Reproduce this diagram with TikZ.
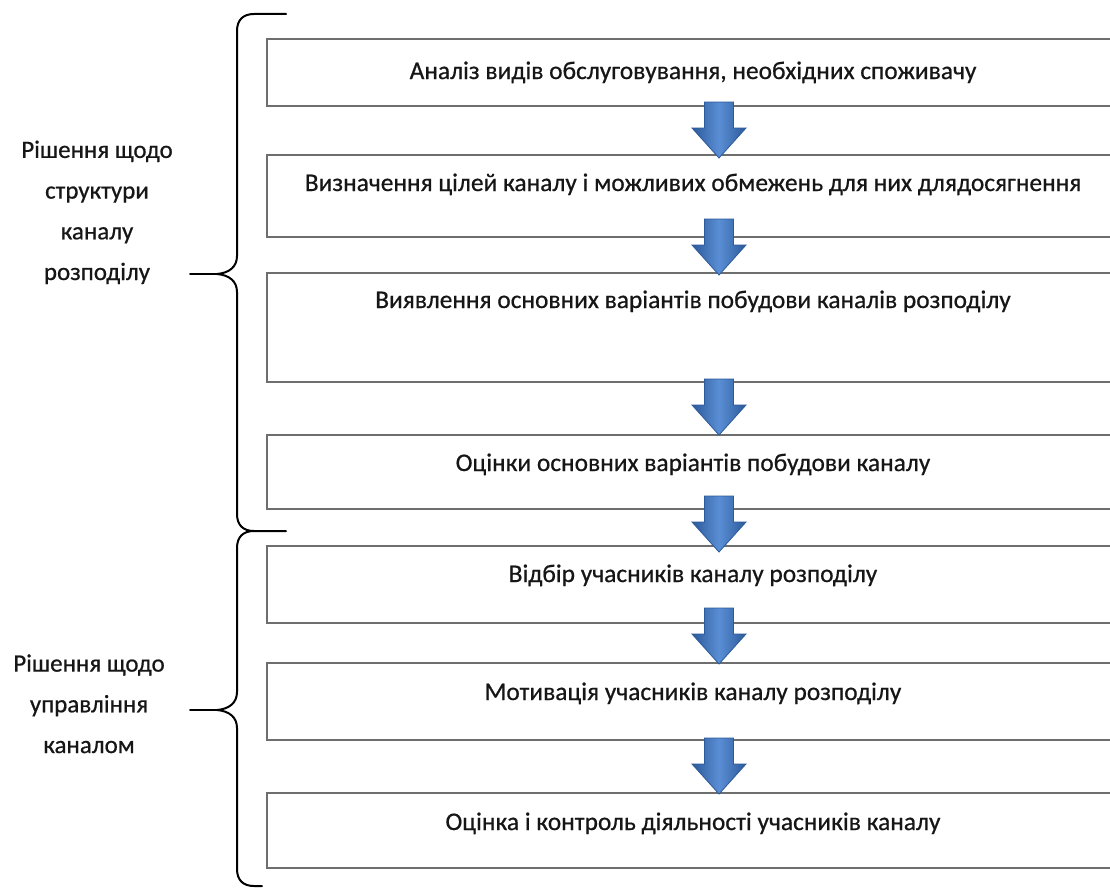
\documentclass[tikz,border=0pt]{standalone}
\usepackage{fontspec}
\setmainfont{Carlito}[FakeBold=0.6]
\usetikzlibrary{calc}
\definecolor{boxline}{HTML}{6E6E6E}
\definecolor{txt}{HTML}{161616}
\definecolor{arrdark}{HTML}{2C5A9A}
\definecolor{arrlight}{HTML}{5A8ED4}
\tikzset{
  stagebox/.style={draw=boxline, line width=2pt, inner sep=0pt, outer sep=0pt, anchor=north west, minimum width=852pt},
  stagetext/.style={text=txt, font=\fontsize{25.4}{30}\selectfont, anchor=base, inner sep=0pt},
  grouplabel/.style={text=txt, font=\fontsize{25}{40.7}\selectfont, align=center, inner sep=0pt, anchor=base},
  bracepath/.style={draw=black, line width=2pt, line join=round, line cap=round},
  flowarrow/.style={left color=arrdark, right color=arrdark, middle color=arrlight, draw=arrdark, line width=0.8pt},
}
\newcommand{\flowarrowto}[2]{%
  \path[flowarrow] ($(#1.north west)+(452,#2)$) -- ++(-27,-30) -- ++(12.5,0) -- ++(0,-26) -- ++(29,0) -- ++(0,26) -- ++(12.5,0) -- cycle;}
\begin{document}
\begin{tikzpicture}[x=1pt,y=-1pt]
\useasboundingbox[fill=white] (0,0) rectangle (1110,891);

% stage boxes
\node[stagebox, minimum height=67pt]  (b1) at (267,39)  {};
\node[stagebox, minimum height=82pt]  (b2) at (267,155) {};
\node[stagebox, minimum height=109pt] (b3) at (267,273) {};
\node[stagebox, minimum height=74pt]  (b4) at (267,435) {};
\node[stagebox, minimum height=77pt]  (b5) at (267,546) {};
\node[stagebox, minimum height=77pt]  (b6) at (267,663) {};
\node[stagebox, minimum height=75pt]  (b7) at (267,793) {};

% stage texts
\node[stagetext] (t1) at (693,79)  {Аналіз видів обслуговування, необхідних споживачу};
\node[stagetext] (t2) at (693,191) {Визначення цілей каналу і можливих обмежень для них длядосягнення};
\node[stagetext] (t3) at (693,308) {Виявлення основних варіантів побудови каналів розподілу};
\node[stagetext] (t4) at (693,471) {Оцінки основних варіантів побудови каналу};
\node[stagetext] (t5) at (693,582) {Відбір учасників каналу розподілу};
\node[stagetext] (t6) at (693,700) {Мотивація учасників каналу розподілу};
\node[stagetext] (t7) at (693,830) {Оцінка і контроль діяльності учасників каналу};

% arrows between boxes
\flowarrowto{b2}{3}
\flowarrowto{b3}{2}
\flowarrowto{b4}{0}
\flowarrowto{b5}{6}
\flowarrowto{b6}{1}
\flowarrowto{b7}{1}

% braces
\draw[bracepath] (286,14) -- (254,14) .. controls (243,14) and (237,20) .. (237,31) -- (237,256)
  .. controls (237,267) and (229,273) .. (217,274) .. controls (229,275) and (237,281) .. (237,292)
  -- (237,514) .. controls (237,525) and (243,531) .. (254,531) -- (286,531);
\draw[bracepath] (190,274) -- (217,274);
\draw[bracepath] (254,531) .. controls (243,531) and (237,537) .. (237,548) -- (237,692)
  .. controls (237,703) and (229,709) .. (217,710) .. controls (229,711) and (237,717) .. (237,728)
  -- (237,869) .. controls (237,880) and (243,886) .. (254,886) -- (262,886);
\draw[bracepath] (190,710) -- (217,710);

% group labels (base anchor = last line)
\node[grouplabel] (g1) at (97,280) {Рішення щодо\\структури\\каналу\\розподілу};
\node[grouplabel] (g2) at (89,753) {Рішення щодо\\управління\\каналом};
\end{tikzpicture}
\end{document}
